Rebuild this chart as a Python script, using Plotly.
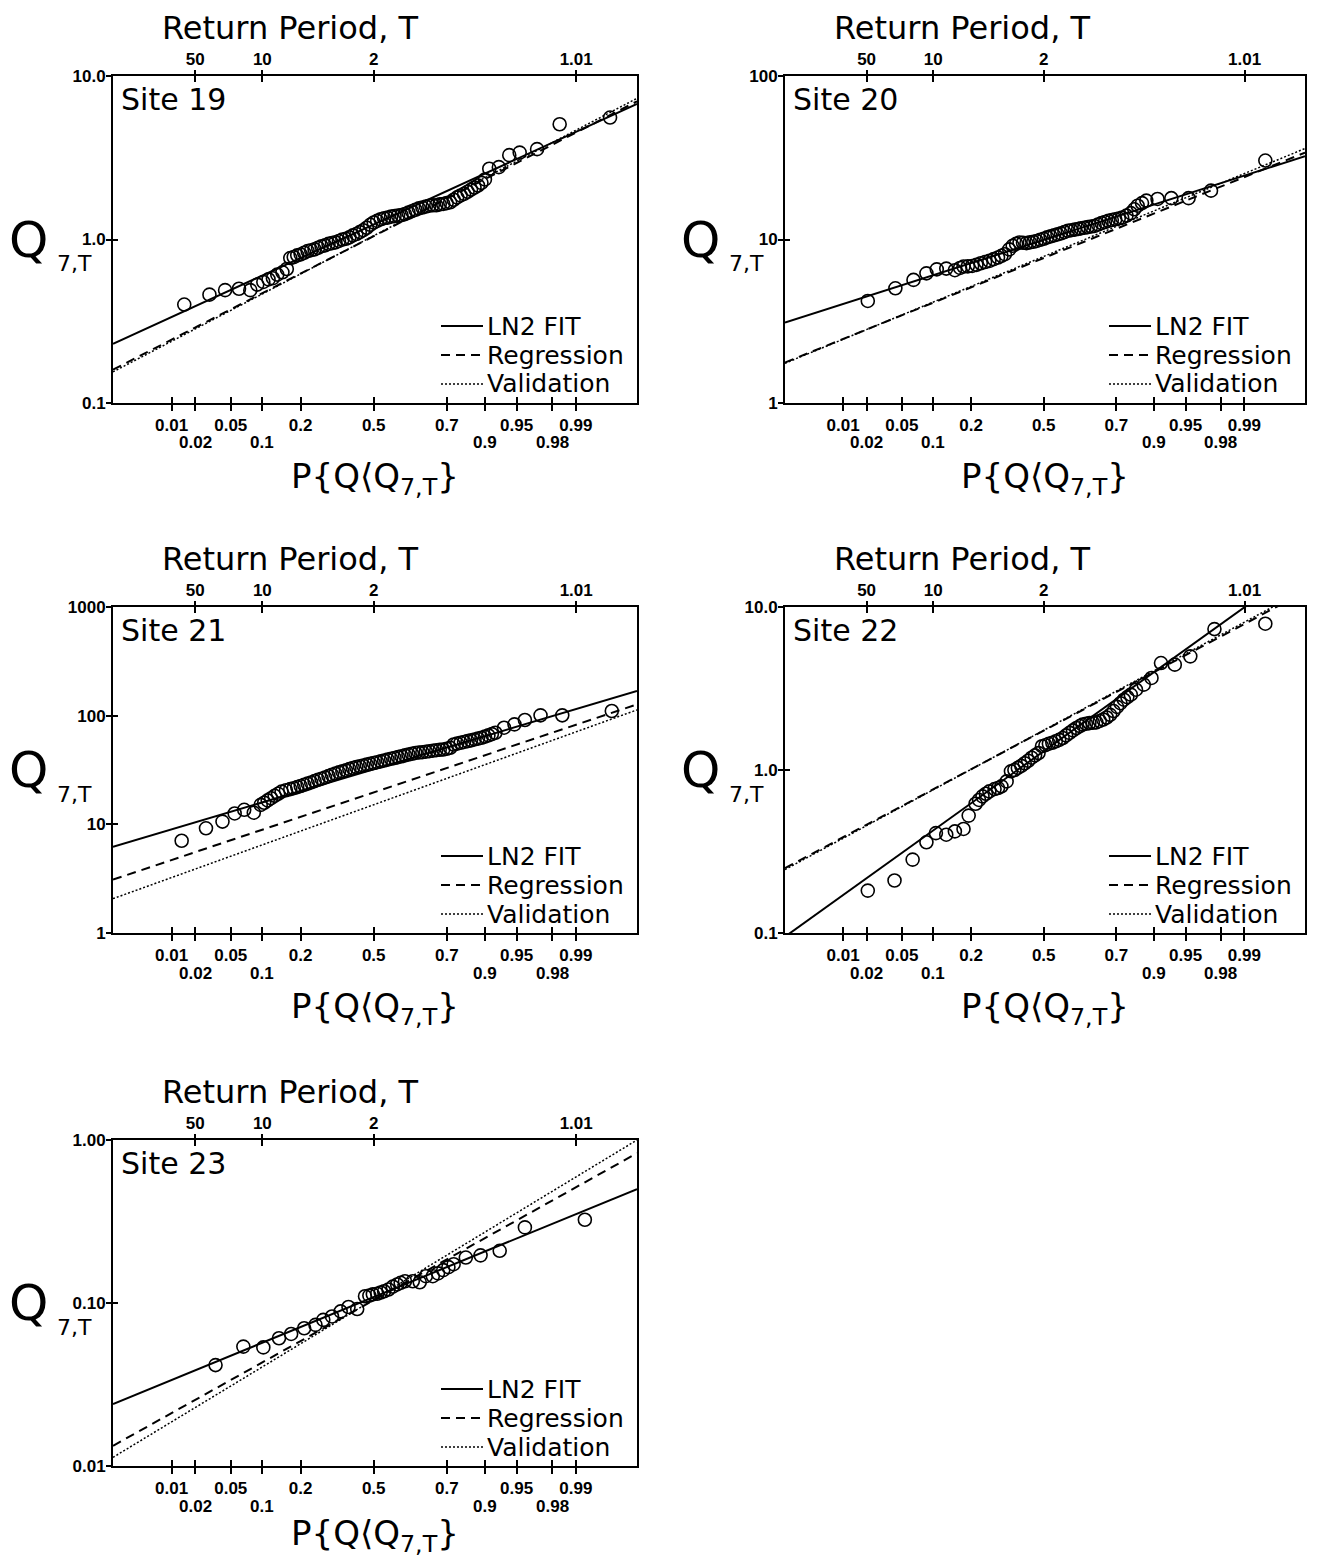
import math
import plotly.graph_objects as go

# page is 1317x1561; the browser's default 8px body margin offsets the figure
PAGE_W, PAGE_H = 1317, 1561
OFF = 8
W, H = PAGE_W - OFF, PAGE_H - OFF

# ---------------- data ----------------
SITES = ["Site 19", "Site 20", "Site 21", "Site 22", "Site 23"]

# bottom axis: non-exceedance probability (normal probability scale)
PROB_TICKS = [0.01, 0.02, 0.05, 0.1, 0.2, 0.5, 0.8, 0.9, 0.95, 0.98, 0.99]
PROB_LABELS = ["0.01", "0.02", "0.05", "0.1", "0.2", "0.5", "0.7", "0.9", "0.95", "0.98", "0.99"]
PROB_ROW = [1, 2, 1, 2, 1, 1, 1, 2, 1, 2, 1]
# top axis: return period T
RETURN_PERIODS = [50, 10, 2, 1.01]
RETURN_LABELS = ["50", "10", "2", "1.01"]

Y_RANGES = [[-1, 1], [0, 2], [0, 3], [-1, 1], [-2, 0]]
Y_TICKS = [[0.1, 1, 10], [1, 10, 100], [1, 10, 100, 1000], [0.1, 1, 10], [0.01, 0.1, 1]]
Y_LABELS = [["0.1", "1.0", "10.0"], ["1", "10", "100"], ["1", "10", "100", "1000"],
            ["0.1", "1.0", "10.0"], ["0.01", "0.10", "1.00"]]

SERIES_NAMES = ["LN2 FIT", "Regression", "Validation"]

X_RANGE = [-3.0, 3.03]
LINE_Z = [-3.0, 3.03]          # standard normal variate at the plot edges

# Site 19 observed 7-day low flows (standard normal variate, Q)
S19_Z = [-2.18, -1.89, -1.71, -1.55, -1.42, -1.34, -1.27, -1.21, -1.16, -1.11, -1.05, -1.00,
         -0.96, -0.92, -0.88, -0.84, -0.80, -0.76, -0.72, -0.68, -0.64, -0.60, -0.56, -0.52,
         -0.48, -0.44, -0.40, -0.36, -0.32, -0.28, -0.24, -0.20, -0.16, -0.12, -0.08, -0.04,
         0.00, 0.04, 0.08, 0.12, 0.16, 0.20, 0.24, 0.28, 0.32, 0.36, 0.40, 0.44, 0.48, 0.52,
         0.56, 0.60, 0.64, 0.68, 0.72, 0.76, 0.80, 0.84, 0.88, 0.92, 0.96, 1.00, 1.04, 1.08,
         1.12, 1.16, 1.20, 1.24, 1.28, 1.33, 1.44, 1.56, 1.68, 1.88, 2.14, 2.72]
S19_Q = [0.40, 0.46, 0.49, 0.50, 0.49, 0.53, 0.55, 0.57, 0.58, 0.61, 0.63, 0.66,
         0.77, 0.78, 0.80, 0.81, 0.83, 0.85, 0.86, 0.87, 0.89, 0.91, 0.92, 0.94,
         0.95, 0.96, 0.98, 1.00, 1.01, 1.03, 1.06, 1.08, 1.11, 1.14, 1.18, 1.23,
         1.27, 1.30, 1.33, 1.35, 1.36, 1.38, 1.39, 1.40, 1.41, 1.43, 1.46, 1.49, 1.52, 1.55,
         1.57, 1.59, 1.61, 1.62, 1.62, 1.64, 1.65, 1.67, 1.69, 1.75, 1.81, 1.86, 1.90, 1.96,
         2.02, 2.08, 2.14, 2.22, 2.33, 2.71, 2.77, 3.28, 3.40, 3.57, 5.07, 5.57]
S19_LN2 = [0.23, 6.75]
S19_REG = [0.16, 7.0]
S19_VAL = [0.155, 7.3]

S20_Z = [-2.04, -1.72, -1.51, -1.36, -1.24, -1.13, -1.03, -0.97, -0.93, -0.88, -0.83, -0.78,
         -0.73, -0.68, -0.63, -0.58, -0.53, -0.49, -0.45, -0.40, -0.36, -0.32, -0.28, -0.24,
         -0.20, -0.16, -0.12, -0.08, -0.04, 0.00, 0.04, 0.08, 0.12, 0.16, 0.20, 0.24, 0.28,
         0.32, 0.36, 0.40, 0.43, 0.47, 0.51, 0.55, 0.59, 0.63, 0.67, 0.71, 0.75, 0.79, 0.83,
         0.87, 0.91, 0.96, 1.01, 1.05, 1.09, 1.14, 1.19, 1.32, 1.48, 1.68, 1.94, 2.57]
S20_Q = [4.21, 5.03, 5.66, 6.21, 6.57, 6.64, 6.49, 6.70, 6.83, 6.85, 6.89, 7.00,
         7.16, 7.28, 7.40, 7.58, 7.76, 7.95, 8.13, 8.70, 9.15, 9.40, 9.59, 9.55,
         9.50, 9.60, 9.68, 9.80, 9.96, 10.1, 10.3, 10.45, 10.6, 10.75, 10.9, 11.1, 11.3,
         11.4, 11.5, 11.6, 11.7, 11.8, 11.9, 12.0, 12.1, 12.35, 12.6, 12.8, 13.0, 13.15, 13.3,
         13.45, 13.6, 14.0, 14.5, 15.3, 16.1, 16.7, 17.3, 17.7, 17.9, 17.9, 19.9, 30.4]
S20_LN2 = [3.10, 32.3]
S20_REG = [1.77, 34.0]
S20_VAL = [1.75, 36.0]

S21_Z = [-2.21, -1.93, -1.74, -1.60, -1.49, -1.38, -1.30, -1.26, -1.22, -1.18, -1.14, -1.10,
         -1.06, -1.01, -0.96, -0.92, -0.88, -0.84, -0.80, -0.76, -0.72, -0.68, -0.64, -0.60,
         -0.56, -0.52, -0.48, -0.44, -0.40, -0.36, -0.32, -0.28, -0.24, -0.20, -0.16, -0.12,
         -0.08, -0.04, 0.00, 0.04, 0.08, 0.12, 0.16, 0.20, 0.24, 0.28, 0.32, 0.36, 0.40, 0.44,
         0.48, 0.52, 0.56, 0.60, 0.64, 0.68, 0.72, 0.76, 0.80, 0.84, 0.88, 0.92, 0.96, 1.00,
         1.04, 1.08, 1.12, 1.16, 1.20, 1.24, 1.28, 1.32, 1.36, 1.40, 1.50, 1.62, 1.74, 1.92,
         2.17, 2.74]
S21_Q = [7.06, 9.19, 10.6, 12.6, 13.6, 12.8, 15.1, 15.8, 16.6, 17.4, 18.3, 19.1,
         20.0, 20.6, 21.1, 21.5, 22.0, 22.5, 23.1, 23.7, 24.3, 25.0, 25.7, 26.3,
         27.0, 27.8, 28.6, 29.3, 30.1, 30.7, 31.4, 32.2, 33.0, 33.6, 34.2, 34.8,
         35.4, 36.0, 36.7, 37.3, 38.0, 38.7, 39.4, 40.1, 40.8, 41.5, 42.3, 43.1, 43.9, 44.6,
         45.4, 45.8, 46.1, 46.6, 47.1, 47.6, 48.1, 48.5, 48.8, 49.6, 50.6, 54.3, 55.3, 56.3,
         57.3, 58.3, 59.3, 60.4, 61.5, 62.6, 64.2, 65.8, 67.7, 69.6, 77.5, 83.2, 91.2, 100.7,
         100.7, 110.4]
S21_LN2 = [6.2, 169.0]
S21_REG = [3.1, 127.0]
S21_VAL = [2.07, 113.0]

S22_Z = [-2.04, -1.73, -1.52, -1.36, -1.25, -1.13, -1.03, -0.93, -0.87, -0.79, -0.75, -0.71,
         -0.67, -0.63, -0.57, -0.53, -0.49, -0.43, -0.38, -0.34, -0.30, -0.26, -0.22, -0.18,
         -0.14, -0.10, -0.06, -0.02, 0.02, 0.06, 0.10, 0.14, 0.18, 0.22, 0.26, 0.30, 0.34,
         0.38, 0.42, 0.45, 0.49, 0.53, 0.57, 0.61, 0.65, 0.69, 0.73, 0.77, 0.81, 0.85, 0.89,
         0.93, 0.97, 1.01, 1.07, 1.16, 1.25, 1.36, 1.52, 1.70, 1.98, 2.57]
S22_Q = [0.182, 0.210, 0.282, 0.360, 0.410, 0.401, 0.420, 0.435, 0.525, 0.621, 0.655, 0.689,
         0.715, 0.739, 0.764, 0.775, 0.794, 0.851, 0.982, 1.00, 1.03, 1.06, 1.10, 1.14,
         1.19, 1.23, 1.27, 1.40, 1.42, 1.45, 1.47, 1.50, 1.53, 1.57, 1.63, 1.69, 1.75,
         1.81, 1.86, 1.90, 1.92, 1.94, 1.95, 1.96, 2.00, 2.04, 2.10, 2.18, 2.30, 2.44, 2.57,
         2.70, 2.80, 2.90, 3.11, 3.34, 3.67, 4.53, 4.43, 4.98, 7.32, 7.90]
S22_LN2 = [0.0949, 18.4]
S22_REG = [0.25, 12.4]
S22_VAL = [0.245, 12.8]

S23_Z = [-1.82, -1.50, -1.27, -1.09, -0.95, -0.80, -0.67, -0.58, -0.48, -0.38, -0.29, -0.19,
         -0.10, -0.05, -0.01, 0.04, 0.08, 0.12, 0.17, 0.22, 0.27, 0.31, 0.36, 0.45, 0.53,
         0.60, 0.68, 0.74, 0.80, 0.86, 0.92, 1.06, 1.23, 1.45, 1.74, 2.43]
S23_Q = [0.0416, 0.0540, 0.0534, 0.0608, 0.0646, 0.0700, 0.0734, 0.0788, 0.0827, 0.0888, 0.0945, 0.0918,
         0.110, 0.111, 0.113, 0.114, 0.116, 0.118, 0.121, 0.126, 0.130, 0.133, 0.136, 0.136, 0.134,
         0.146, 0.146, 0.152, 0.159, 0.166, 0.173, 0.190, 0.196, 0.209, 0.291, 0.324]
S23_LN2 = [0.024, 0.50]
S23_REG = [0.0133, 0.83]
S23_VAL = [0.0113, 1.0]

POINTS_Z = [S19_Z, S20_Z, S21_Z, S22_Z, S23_Z]
POINTS_Q = [S19_Q, S20_Q, S21_Q, S22_Q, S23_Q]
LN2 = [S19_LN2, S20_LN2, S21_LN2, S22_LN2, S23_LN2]
REG = [S19_REG, S20_REG, S21_REG, S22_REG, S23_REG]
VAL = [S19_VAL, S20_VAL, S21_VAL, S22_VAL, S23_VAL]


# ---------------- helpers ----------------
def probit(p):
    """Inverse standard normal CDF (Acklam's approximation)."""
    a = [-3.969683028665376e+01, 2.209460984245205e+02, -2.759285104469687e+02,
         1.383577518672690e+02, -3.066479806614716e+01, 2.506628277459239e+00]
    b = [-5.447609879822406e+01, 1.615858368580409e+02, -1.556989798598866e+02,
         6.680131188771972e+01, -1.328068155288572e+01]
    c = [-7.784894002430293e-03, -3.223964580411365e-01, -2.400758277161838e+00,
         -2.549732539343734e+00, 4.374664141464968e+00, 2.938163982698783e+00]
    d = [7.784695709041462e-03, 3.224671290700398e-01, 2.445134137142996e+00,
         3.754408661907416e+00]
    plow = 0.02425
    if p < plow:
        q = math.sqrt(-2 * math.log(p))
        return (((((c[0]*q+c[1])*q+c[2])*q+c[3])*q+c[4])*q+c[5]) / ((((d[0]*q+d[1])*q+d[2])*q+d[3])*q+1)
    if p > 1 - plow:
        q = math.sqrt(-2 * math.log(1 - p))
        return -(((((c[0]*q+c[1])*q+c[2])*q+c[3])*q+c[4])*q+c[5]) / ((((d[0]*q+d[1])*q+d[2])*q+d[3])*q+1)
    q = p - 0.5
    r = q * q
    return (((((a[0]*r+a[1])*r+a[2])*r+a[3])*r+a[4])*r+a[5])*q / (((((b[0]*r+b[1])*r+b[2])*r+b[3])*r+b[4])*r+1)


def px(x):
    """page pixel x -> paper fraction"""
    return (x - OFF) / W


def py(y):
    """page pixel y -> paper fraction"""
    return 1 - (y - OFF) / H


Z_TICKS = [probit(p) for p in PROB_TICKS]
Z_TOP = [probit(1.0 / t) for t in RETURN_PERIODS]
ROW1_TEXT = [lab if r == 1 else "" for lab, r in zip(PROB_LABELS, PROB_ROW)]

# panel frames in page pixels: left, right, top, bottom
PANELS = [(113, 637, 76, 403), (785, 1305, 76, 403), (113, 637, 607, 933),
          (785, 1305, 607, 933), (113, 637, 1140, 1466)]
XTITLE_GAP = [76, 76, 76, 76, 69]

TXT = "DejaVu Sans"
TICKFONT = dict(family="Liberation Sans", size=17, color="black", weight="bold")
LINE_STYLES = [dict(color="black", width=2),
               dict(color="black", width=2, dash="9px,6px"),
               dict(color="black", width=1.5, dash="2px,2px")]

fig = go.Figure()
layout = dict(width=W, height=H, margin=dict(l=0, r=0, t=0, b=0, autoexpand=False),
              paper_bgcolor="white", plot_bgcolor="white",
              font=dict(family=TXT, color="black"), showlegend=False)
annotations = []
shapes = []

for k in range(5):
    n = k + 1
    L, R, T, B = PANELS[k]
    xid = "x" if n == 1 else f"x{n}"
    yid = "y" if n == 1 else f"y{n}"
    xkey = "xaxis" if n == 1 else f"xaxis{n}"
    ykey = "yaxis" if n == 1 else f"yaxis{n}"

    common = dict(showgrid=False, zeroline=False, tickcolor="black", tickwidth=2,
                  automargin=False)
    layout[xkey] = dict(domain=[px(L), px(R)], anchor=yid, range=X_RANGE,
                        tickmode="array", tickvals=Z_TICKS, ticktext=ROW1_TEXT,
                        ticks="outside", ticklen=6, tickfont=TICKFONT, ticklabelstandoff=0,
                        showline=True, linewidth=2, linecolor="black", mirror=True, **common)
    layout[ykey] = dict(domain=[py(B), py(T)], anchor=xid, type="log", range=Y_RANGES[k],
                        tickmode="array", tickvals=Y_TICKS[k], ticktext=Y_LABELS[k],
                        ticks="outside", ticklen=5, tickfont=TICKFONT, ticklabelstandoff=-3,
                        showline=True, linewidth=2, linecolor="black", mirror=True, **common)
    # crossing ticks and top return-period axis (overlays)
    xb, xt, xti, yi = n + 5, n + 10, n + 15, n + 5
    layout[f"xaxis{xb}"] = dict(overlaying=xid, anchor=yid, side="bottom", range=X_RANGE,
                                tickmode="array", tickvals=Z_TICKS, ticks="inside", ticklen=6,
                                showticklabels=False, showline=False, **common)
    layout[f"xaxis{xt}"] = dict(overlaying=xid, anchor=yid, side="top", range=X_RANGE,
                                tickmode="array", tickvals=Z_TOP, ticktext=RETURN_LABELS,
                                ticks="outside", ticklen=5, tickfont=TICKFONT, ticklabelstandoff=-2,
                                showline=False, **common)
    layout[f"xaxis{xti}"] = dict(overlaying=xid, anchor=yid, side="top", range=X_RANGE,
                                 tickmode="array", tickvals=Z_TOP, ticks="inside", ticklen=6,
                                 showticklabels=False, showline=False, **common)
    layout[f"yaxis{yi}"] = dict(overlaying=yid, anchor=xid, side="left", type="log",
                                range=Y_RANGES[k], tickmode="array", tickvals=Y_TICKS[k],
                                ticks="inside", ticklen=5, showticklabels=False,
                                showline=False, **common)
    for ax, ay in [(f"x{xb}", yid), (f"x{xt}", yid), (f"x{xti}", yid), (xid, f"y{yi}")]:
        fig.add_trace(go.Scatter(x=[None], y=[None], xaxis=ax, yaxis=ay, mode="markers",
                                 showlegend=False, hoverinfo="skip"))

    # data
    fig.add_trace(go.Scatter(x=POINTS_Z[k], y=POINTS_Q[k], xaxis=xid, yaxis=yid, mode="markers",
                             name="Observed",
                             marker=dict(symbol="circle-open", size=13, color="black",
                                         line=dict(width=1.6, color="black")),
                             showlegend=False, hoverinfo="skip"))
    for name, vals, style in zip(SERIES_NAMES, [LN2[k], REG[k], VAL[k]], LINE_STYLES):
        fig.add_trace(go.Scatter(x=LINE_Z, y=vals, xaxis=xid, yaxis=yid, mode="lines",
                                 name=name, line=style, showlegend=False))

    # legend (drawn inside the lower right of each panel)
    for j, (name, style) in enumerate(zip(SERIES_NAMES, LINE_STYLES)):
        yrow = B - 77 + 29 * j
        shapes.append(dict(type="line", xref="paper", yref="paper",
                           x0=px(R - 196), x1=px(R - 154), y0=py(yrow), y1=py(yrow),
                           line=style))
        annotations.append(dict(x=px(R - 152), y=py(yrow), xref="paper", yref="paper",
                                text=name, showarrow=False, xanchor="left", yanchor="middle",
                                font=dict(family=TXT, size=25, color="black")))

    # second row of probability labels
    for z, lab, r in zip(Z_TICKS, PROB_LABELS, PROB_ROW):
        if r == 2:
            annotations.append(dict(x=z, xref=xid, y=py(B + 40), yref="paper", text=lab,
                                    showarrow=False, xanchor="center", yanchor="middle",
                                    font=TICKFONT))
    # texts
    annotations.append(dict(x=px(L + 6), y=py(T + 4), xref="paper", yref="paper", text=SITES[k],
                            showarrow=False, xanchor="left", yanchor="top",
                            font=dict(family=TXT, size=30, color="black")))
    annotations.append(dict(x=px(L + 177), y=py(T - 48), xref="paper", yref="paper",
                            text="Return Period, T", showarrow=False, xanchor="center",
                            yanchor="middle", font=dict(family=TXT, size=32, color="black")))
    mid = (T + B) / 2
    annotations.append(dict(x=px(L - 85), y=py(mid), xref="paper", yref="paper", text="Q",
                            showarrow=False, xanchor="center", yanchor="middle",
                            font=dict(family=TXT, size=50, color="black")))
    annotations.append(dict(x=px(L - 58), y=py(mid + 24), xref="paper", yref="paper", text="7,T",
                            showarrow=False, xanchor="left", yanchor="middle",
                            font=dict(family=TXT, size=22, color="black")))
    annotations.append(dict(x=px((L + R) / 2), y=py(B + XTITLE_GAP[k]), xref="paper", yref="paper",
                            text="P{Q\u27e8Q<sub>7,T</sub>}", showarrow=False,
                            xanchor="center", yanchor="middle",
                            font=dict(family=TXT, size=34, color="black")))

layout["annotations"] = annotations
layout["shapes"] = shapes
fig.update_layout(**layout)
fig.write_html("out.html")
